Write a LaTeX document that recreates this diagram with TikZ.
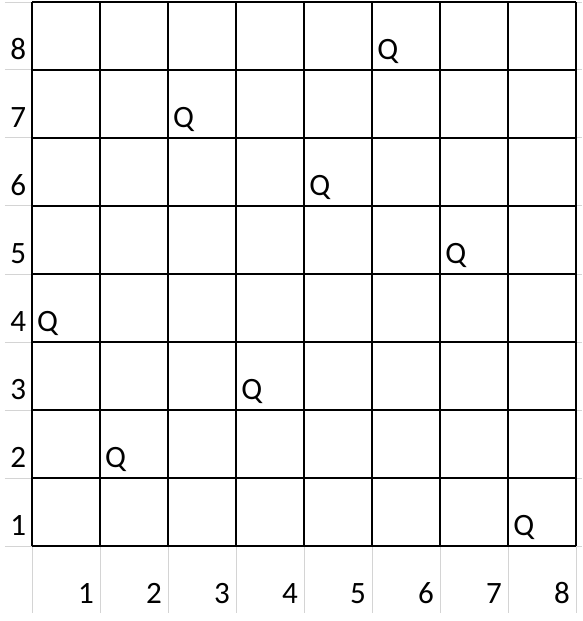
\documentclass[tikz,border=0pt]{standalone}
\usepackage{fontspec}
\setmainfont{Carlito}
\usepackage{tikz}
\usetikzlibrary{positioning}

\begin{document}
\begin{tikzpicture}[
  font=\fontsize{13}{15}\selectfont,
  board/.style={line width=0.6pt, black},
  sheet/.style={line width=0.4pt, black!17},
  rowlbl/.style={anchor=base east, inner sep=0pt},
  collbl/.style={anchor=base east, inner sep=0pt},
  queen/.style={anchor=base west, inner sep=0pt}
]
\useasboundingbox (-0.4706,-1.103) rectangle (8.088,8.029);

% Spreadsheet gridlines outside the board
\draw[sheet] (-0.4,0) grid (0,8);
\draw[sheet] (8,0) grid (8.088,8);
\draw[sheet] (0,-0.985) grid (8,0);

% Board
\draw[board] (0,0) grid (8,8);

% Row numbers
\node[rowlbl] (r1) at (-0.078,0.15) {1};
\node[rowlbl] (r2) at (-0.078,1.15) {2};
\node[rowlbl] (r3) at (-0.078,2.15) {3};
\node[rowlbl] (r4) at (-0.078,3.15) {4};
\node[rowlbl] (r5) at (-0.078,4.15) {5};
\node[rowlbl] (r6) at (-0.078,5.15) {6};
\node[rowlbl] (r7) at (-0.078,6.15) {7};
\node[rowlbl] (r8) at (-0.078,7.15) {8};

% Column numbers
\node[collbl] (c1) at (0.915,-0.84) {1};
\node[collbl] (c2) at (1.915,-0.84) {2};
\node[collbl] (c3) at (2.915,-0.84) {3};
\node[collbl] (c4) at (3.915,-0.84) {4};
\node[collbl] (c5) at (4.915,-0.84) {5};
\node[collbl] (c6) at (5.915,-0.84) {6};
\node[collbl] (c7) at (6.915,-0.84) {7};
\node[collbl] (c8) at (7.915,-0.84) {8};

% Queens
\node[queen] (q8) at (5.07,7.16) {Q};
\node[queen] (q7) at (2.07,6.16) {Q};
\node[queen] (q6) at (4.07,5.16) {Q};
\node[queen] (q5) at (6.07,4.16) {Q};
\node[queen] (q4) at (0.07,3.16) {Q};
\node[queen] (q3) at (3.07,2.16) {Q};
\node[queen] (q2) at (1.07,1.16) {Q};
\node[queen] (q1) at (7.07,0.16) {Q};
\end{tikzpicture}
\end{document}
